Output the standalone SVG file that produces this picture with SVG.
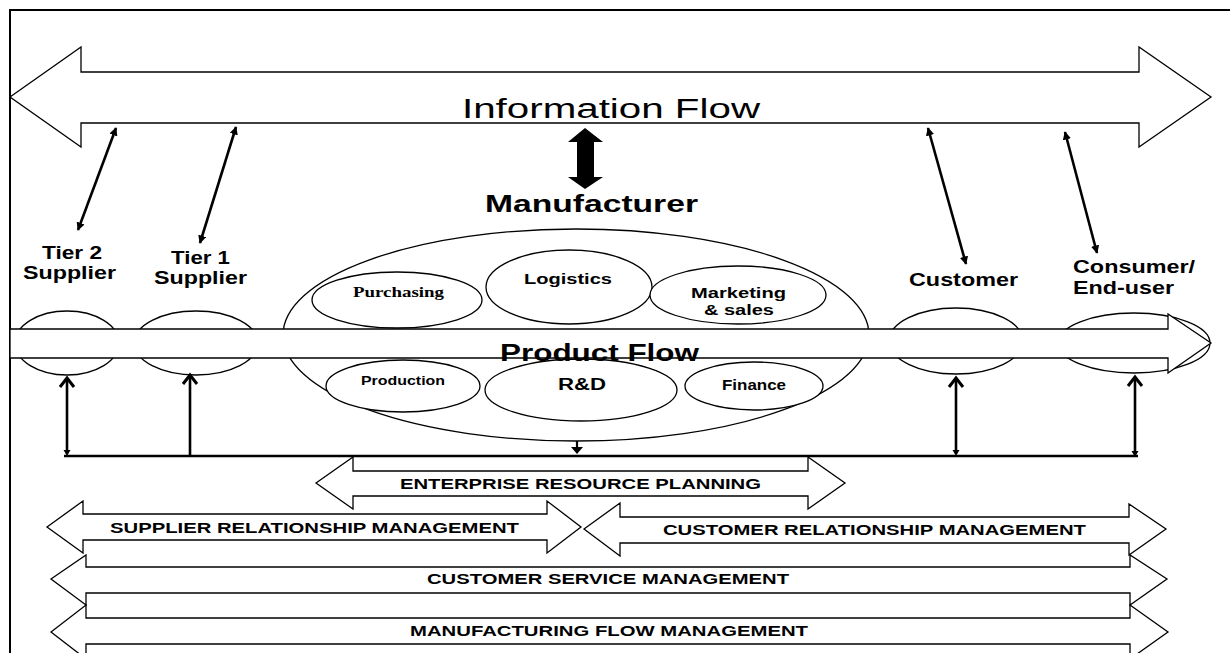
<svg xmlns="http://www.w3.org/2000/svg" width="1230" height="653" viewBox="0 0 1230 653">
  <style>
    .shape { fill: #fff; stroke: #000; stroke-width: 1.3; }
    .band { fill: #fff; stroke: #000; stroke-width: 1.3; }
    .lbl { font-family: "Liberation Sans", Arial, sans-serif; font-weight: bold; fill: #000; }
    .reg { font-family: "Liberation Sans", Arial, sans-serif; font-weight: normal; fill: #000; }
    .serif { font-family: "Liberation Serif", "Times New Roman", serif; font-weight: bold; fill: #000; }
    .link { stroke: #000; stroke-width: 2.6; fill: none; }
    .rail { stroke: #000; stroke-width: 2.4; fill: none; }
    .chev { stroke: #000; stroke-width: 3; fill: none; stroke-linejoin: miter; }
  </style>
  <defs>
    <marker id="tip" viewBox="0 0 10 10" refX="9" refY="5" markerWidth="3.2" markerHeight="3.2" orient="auto-start-reverse" markerUnits="strokeWidth">
      <path d="M0,0 L10,5 L0,10 z" fill="#000"/>
    </marker>
    <!-- upward open chevron head for the rail arrows -->
    <path id="up-head" class="chev" d="M-7,10 L0,1 L7,10"/>
    <!-- small filled head at the foot of the rail arrows -->
    <path id="down-nub" d="M-3.5,-6 L3.5,-6 L0,0 z" fill="#000"/>
  </defs>

  <rect width="1230" height="653" fill="#fff"/>

  <!-- outer frame -->
  <g id="frame">
    <path d="M10,663 L10,10 L1240,10" fill="none" stroke="#000" stroke-width="2"/>
  </g>

  <!-- information flow (double block arrow) -->
  <g id="information-flow">
    <polygon class="shape" points="10,97 81,47 81,72 1139,72 1139,47 1211,97 1139,147 1139,123 81,123 81,147"/>
    <text class="reg" x="462" y="118" font-size="27" textLength="298" lengthAdjust="spacingAndGlyphs">Information Flow</text>
  </g>

  <!-- supply chain members: ellipses behind the product flow band -->
  <g id="tier2-supplier">
    <ellipse class="shape" cx="67" cy="343" rx="52" ry="32"/>
  </g>
  <g id="tier1-supplier">
    <ellipse class="shape" cx="196" cy="343" rx="62" ry="32"/>
  </g>
  <g id="customer">
    <ellipse class="shape" cx="956" cy="341" rx="67" ry="33"/>
  </g>
  <g id="consumer">
    <ellipse class="shape" cx="1134" cy="343" rx="76" ry="30"/>
  </g>

  <!-- manufacturer with its functions -->
  <g id="manufacturer">
    <ellipse class="shape" cx="576" cy="335" rx="293" ry="106"/>
    <ellipse class="shape" cx="397" cy="300" rx="85" ry="28"/>
    <ellipse class="shape" cx="569" cy="287" rx="83" ry="37"/>
    <ellipse class="shape" cx="738" cy="295" rx="88" ry="29"/>
    <ellipse class="shape" cx="403" cy="386" rx="77" ry="26"/>
    <ellipse class="shape" cx="581" cy="390" rx="96" ry="31"/>
    <ellipse class="shape" cx="754" cy="386" rx="69" ry="24"/>
  </g>

  <!-- product flow band -->
  <g id="product-flow">
    <polygon class="band" points="10,329 1168,329 1168,314 1211,343 1168,373 1168,358 10,358"/>
  </g>

  <!-- labels -->
  <g id="labels">
    <text class="lbl" x="485" y="212" font-size="23" textLength="213" lengthAdjust="spacingAndGlyphs">Manufacturer</text>
    <text class="lbl" x="42" y="259" font-size="18" textLength="60" lengthAdjust="spacingAndGlyphs">Tier 2</text>
    <text class="lbl" x="23" y="279" font-size="18" textLength="93" lengthAdjust="spacingAndGlyphs">Supplier</text>
    <text class="lbl" x="171" y="264" font-size="18" textLength="59" lengthAdjust="spacingAndGlyphs">Tier 1</text>
    <text class="lbl" x="154" y="284" font-size="18" textLength="93" lengthAdjust="spacingAndGlyphs">Supplier</text>
    <text class="lbl" x="909" y="286" font-size="18" textLength="109" lengthAdjust="spacingAndGlyphs">Customer</text>
    <text class="lbl" x="1073" y="273" font-size="18" textLength="122" lengthAdjust="spacingAndGlyphs">Consumer/</text>
    <text class="lbl" x="1073" y="294" font-size="18" textLength="101" lengthAdjust="spacingAndGlyphs">End-user</text>

    <text class="serif" x="353" y="297" font-size="14" textLength="91" lengthAdjust="spacingAndGlyphs">Purchasing</text>
    <text class="lbl" x="524" y="284" font-size="15" textLength="88" lengthAdjust="spacingAndGlyphs">Logistics</text>
    <text class="lbl" x="691" y="298" font-size="15" textLength="95" lengthAdjust="spacingAndGlyphs">Marketing</text>
    <text class="lbl" x="704" y="315" font-size="15" textLength="70" lengthAdjust="spacingAndGlyphs">&amp; sales</text>
    <text class="lbl" x="500" y="361" font-size="23" textLength="199" lengthAdjust="spacingAndGlyphs">Product Flow</text>
    <text class="lbl" x="361" y="385" font-size="12" textLength="84" lengthAdjust="spacingAndGlyphs">Production</text>
    <text class="lbl" x="558" y="390" font-size="16" textLength="48" lengthAdjust="spacingAndGlyphs">R&amp;D</text>
    <text class="lbl" x="722" y="390" font-size="14" textLength="64" lengthAdjust="spacingAndGlyphs">Finance</text>
  </g>

  <!-- connectors -->
  <g id="connectors">
    <!-- manufacturer <-> information flow -->
    <polygon points="585,128 603,142 594,142 594,177 603,177 585,189 568,177 577,177 577,142 568,142" fill="#000"/>
    <!-- members <-> information flow -->
    <line class="link" x1="78" y1="230" x2="116" y2="128" marker-start="url(#tip)" marker-end="url(#tip)"/>
    <line class="link" x1="200" y1="243" x2="236" y2="127" marker-start="url(#tip)" marker-end="url(#tip)"/>
    <line class="link" x1="966" y1="264" x2="928" y2="128" marker-start="url(#tip)" marker-end="url(#tip)"/>
    <line class="link" x1="1097" y1="253" x2="1065" y2="132" marker-start="url(#tip)" marker-end="url(#tip)"/>
    <!-- common rail below the chain -->
    <line class="rail" x1="64" y1="456" x2="1138" y2="456"/>
    <line class="link" x1="67" y1="450" x2="67" y2="379"/>
    <use href="#up-head" x="67" y="377"/>
    <use href="#down-nub" x="67" y="456"/>
    <line class="link" x1="190" y1="456" x2="190" y2="376"/>
    <use href="#up-head" x="190" y="374"/>
    <line class="link" x1="956" y1="450" x2="956" y2="379"/>
    <use href="#up-head" x="956" y="377"/>
    <use href="#down-nub" x="956" y="456"/>
    <line class="link" x1="1135" y1="451" x2="1135" y2="378"/>
    <use href="#up-head" x="1135" y="376"/>
    <use href="#down-nub" x="1135" y="457"/>
    <!-- manufacturer down to the rail -->
    <line stroke="#000" stroke-width="2.2" x1="577" y1="441" x2="577" y2="449"/>
    <path d="M571,447 L583,447 L577,454 z" fill="#000"/>
  </g>

  <!-- management processes -->
  <g id="erp">
    <polygon class="shape" points="316,483 353,457 353,471 808,471 808,457 845,483 808,509 808,496 353,496 353,509"/>
    <text class="lbl" x="400" y="489" font-size="15" textLength="361" lengthAdjust="spacingAndGlyphs">ENTERPRISE RESOURCE PLANNING</text>
  </g>
  <g id="srm">
    <polygon class="shape" points="47,527 83,501 83,514 547,514 547,501 581,527 547,553 547,540 83,540 83,553"/>
    <text class="lbl" x="110" y="533" font-size="14" textLength="409" lengthAdjust="spacingAndGlyphs">SUPPLIER RELATIONSHIP MANAGEMENT</text>
  </g>
  <g id="crm">
    <polygon class="shape" points="584,529 620,503 620,517 1129,517 1129,504 1166,529 1129,555 1129,543 620,543 620,556"/>
    <text class="lbl" x="663" y="535" font-size="14" textLength="423" lengthAdjust="spacingAndGlyphs">CUSTOMER RELATIONSHIP MANAGEMENT</text>
  </g>
  <g id="csm">
    <polygon class="shape" points="51,579 86,555 86,567 1130,567 1130,555 1167,579 1130,605 1130,593 86,593 86,605"/>
    <text class="lbl" x="427" y="584" font-size="14" textLength="362" lengthAdjust="spacingAndGlyphs">CUSTOMER SERVICE MANAGEMENT</text>
  </g>
  <g id="mfm">
    <polygon class="shape" points="51,632 86,605 86,618 1130,618 1130,605 1168,632 1130,659 1130,644 86,644 86,659"/>
    <text class="lbl" x="410" y="636" font-size="14" textLength="398" lengthAdjust="spacingAndGlyphs">MANUFACTURING FLOW MANAGEMENT</text>
  </g>
</svg>
